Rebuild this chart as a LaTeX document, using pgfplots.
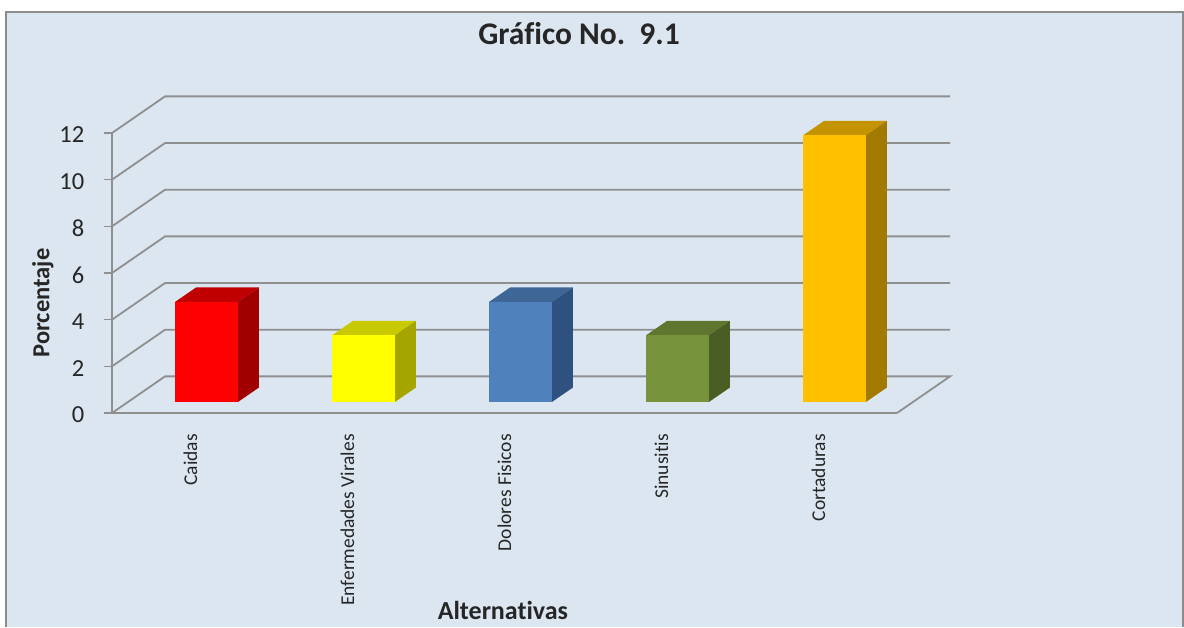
\documentclass[border=0pt]{standalone}
\usepackage{fontspec}
\setmainfont{Carlito}[Ligatures=NoCommon]
\usepackage{pgfplots}
\pgfplotsset{compat=1.18}

\definecolor{panel}{HTML}{DCE6F1}
\definecolor{framegray}{HTML}{8C8C8C}
\definecolor{gridgray}{HTML}{8F8F8F}
\definecolor{ink}{HTML}{262626}
\definecolor{redfront}{HTML}{FF0000}
\definecolor{redtop}{HTML}{C00000}
\definecolor{redside}{HTML}{A00000}
\definecolor{yelfront}{HTML}{FFFF00}
\definecolor{yeltop}{HTML}{C9C900}
\definecolor{yelside}{HTML}{A5A500}
\definecolor{blufront}{HTML}{4F81BD}
\definecolor{blutop}{HTML}{3E6797}
\definecolor{bluside}{HTML}{2F5180}
\definecolor{grnfront}{HTML}{77933C}
\definecolor{grntop}{HTML}{5F762F}
\definecolor{grnside}{HTML}{4A5D24}
\definecolor{orgfront}{HTML}{FFC000}
\definecolor{orgtop}{HTML}{C49300}
\definecolor{orgside}{HTML}{A37A00}

\pgfplotsset{
	grid3d/.style={gridgray,line width=1.8pt},
	face/.style={fill=#1,draw=none,xshift=16pt,yshift=11pt},
	front/.style={ybar,bar width=63pt,bar shift=16pt,yshift=11pt,fill=#1,draw=none},
}

\begin{document}
\begin{tikzpicture}[x=1pt,y=1pt]
% 1 pt = 1 px of the reference
\path[use as bounding box] (0,0) rectangle (1184,627);
\fill[panel] (6,0) rectangle (1183,615);
\draw[framegray,line width=1.5pt] (6,0) -- (6,615) -- (1183,615) -- (1183,0);

\begin{axis}[
	at={(112pt,214pt)}, anchor=south west,
	x=157pt, y=23.333pt,
	xmin=-0.5, xmax=4.5, ymin=0, ymax=12,
	clip=false,
	axis lines=left,
	axis line style={-,gridgray,line width=1.8pt},
	xtick={0,1,2,3,4},
	xticklabels={Caidas,Enfermedades Virales,Dolores Fisicos,Sinusitis,Cortaduras},
	xtick style={draw=none},
	ytick={0,2,4,6,8,10,12},
	ytick style={gridgray,line width=1.5pt},
	tick align=outside,
	major tick length=8pt,
	/pgf/number format/assume math mode=true,
	% rotated labels: xshift runs along the text
	xticklabel style={rotate=90,anchor=east,inner sep=0pt,xshift=-13pt,text=ink,font=\fontsize{19.5}{20}\selectfont},
	yticklabel style={anchor=east,inner sep=0pt,xshift=-19.5pt,yshift=-2pt,text=ink,font=\fontsize{24.5}{26}\selectfont},
	title={Gr\'afico No.\ \ 9.1},
	title style={at={(axis description cs:0.595,1.332)},anchor=center,inner sep=0pt,text=ink,font=\bfseries\fontsize{31.5}{34}\selectfont},
	xlabel={Alternativas},
	xlabel style={at={(axis description cs:0.498,-0.707)},anchor=center,inner sep=0pt,text=ink,font=\bfseries\fontsize{26}{28}\selectfont},
	ylabel={Porcentaje},
	ylabel style={at={(axis description cs:-0.088,0.393)},anchor=center,inner sep=0pt,text=ink,font=\bfseries\fontsize{24.5}{28}\selectfont},
]
% floor and back wall lines with the slanted left end
\addplot[grid3d] coordinates {(4.5,0) (4.838,1.57) (-0.162,1.57) (-0.5,0)};
\addplot[grid3d] coordinates {(-0.5,2) (-0.162,3.57) (4.838,3.57)};
\addplot[grid3d] coordinates {(-0.5,4) (-0.162,5.57) (4.838,5.57)};
\addplot[grid3d] coordinates {(-0.5,6) (-0.162,7.57) (4.838,7.57)};
\addplot[grid3d] coordinates {(-0.5,8) (-0.162,9.57) (4.838,9.57)};
\addplot[grid3d] coordinates {(-0.5,10) (-0.162,11.57) (4.838,11.57)};
\addplot[grid3d] coordinates {(-0.5,12) (-0.162,13.57) (4.838,13.57)};

% Caidas
\addplot[face=redtop] coordinates {(-.2,4.29) (.2,4.29) (.334,4.91) (-.066,4.91)} --cycle;
\addplot[face=redside] coordinates {(.2,0) (.334,.62) (.334,4.91) (.2,4.29)} --cycle;
\addplot[front=redfront] coordinates {(0,4.29)};
% Enfermedades Virales
\addplot[face=yeltop] coordinates {(.8,2.86) (1.2,2.86) (1.334,3.48) (.934,3.48)} --cycle;
\addplot[face=yelside] coordinates {(1.2,0) (1.334,.62) (1.334,3.48) (1.2,2.86)} --cycle;
\addplot[front=yelfront] coordinates {(1,2.86)};
% Dolores Fisicos
\addplot[face=blutop] coordinates {(1.8,4.29) (2.2,4.29) (2.334,4.91) (1.934,4.91)} --cycle;
\addplot[face=bluside] coordinates {(2.2,0) (2.334,.62) (2.334,4.91) (2.2,4.29)} --cycle;
\addplot[front=blufront] coordinates {(2,4.29)};
% Sinusitis
\addplot[face=grntop] coordinates {(2.8,2.86) (3.2,2.86) (3.334,3.48) (2.934,3.48)} --cycle;
\addplot[face=grnside] coordinates {(3.2,0) (3.334,.62) (3.334,3.48) (3.2,2.86)} --cycle;
\addplot[front=grnfront] coordinates {(3,2.86)};
% Cortaduras
\addplot[face=orgtop] coordinates {(3.8,11.43) (4.2,11.43) (4.334,12.05) (3.934,12.05)} --cycle;
\addplot[face=orgside] coordinates {(4.2,0) (4.334,.62) (4.334,12.05) (4.2,11.43)} --cycle;
\addplot[front=orgfront] coordinates {(4,11.43)};
\end{axis}
\end{tikzpicture}
\end{document}
